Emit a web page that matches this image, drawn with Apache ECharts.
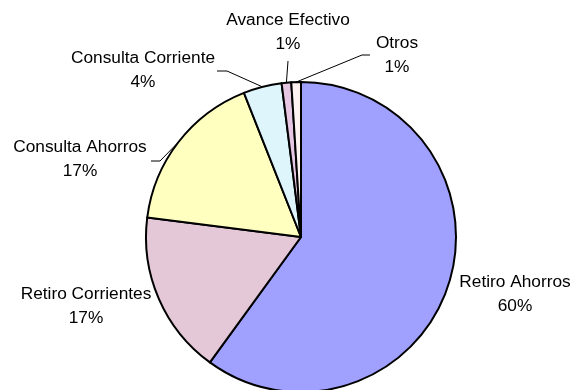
<!DOCTYPE html>
<html>
<head>
<meta charset="utf-8">
<script src="https://cdn.jsdelivr.net/npm/echarts@6/dist/echarts.min.js"></script>
<style>
  html, body { margin: 0; padding: 0; background: #ffffff; }
  #chart { width: 573px; height: 390px; }
</style>
</head>
<body>
<div id="chart"></div>
<script>
// Transaction mix, share of total (%)
var categories = ['Retiro Ahorros', 'Retiro Corrientes', 'Consulta Ahorros', 'Consulta Corriente', 'Avance Efectivo', 'Otros'];
var shares = [60, 17, 17, 4, 1, 1];
var sliceColors = ['#A0A0FF', '#E4C8D8', '#FFFFC0', '#DDF5FB', '#E6C6E2', '#FFF2F2'];

// Pie geometry
var CX = 301, CY = 237, R = 155;

// Label block centres and leader-line bends (null = no leader line)
var labelAnchors = [[515, 294], [86, 306], [80, 159], [143, 70], [288, 32], [397, 55]];
var leaderBends = [null, null, [[160, 161], [151, 161]], [[227, 71], [217, 71]], [[288, 61]], [[362, 55], [370, 55]]];

var total = shares.reduce(function (a, b) { return a + b; }, 0);

// Point on the rim at the middle of slice i (clockwise from 12 o'clock)
function rimPoint(i) {
  var before = 0;
  for (var k = 0; k < i; k++) before += shares[k];
  var a = (before + shares[i] / 2) / total * 2 * Math.PI;
  return [CX + R * Math.sin(a), CY - R * Math.cos(a)];
}

var data = categories.map(function (name, i) {
  return {
    name: name,
    value: shares[i],
    itemStyle: { color: sliceColors[i] },
    labelLine: { show: leaderBends[i] !== null }
  };
});

var chart = echarts.init(document.getElementById('chart'), null, { renderer: 'canvas' });
chart.setOption({
  backgroundColor: '#ffffff',
  animation: false,
  series: [{
    type: 'pie',
    center: [CX, CY],
    radius: R,
    startAngle: 90,
    clockwise: true,
    avoidLabelOverlap: false,
    minShowLabelAngle: 0,
    data: data,
    itemStyle: { borderColor: '#000000', borderWidth: 2 },
    emphasis: { disabled: true },
    label: {
      show: true,
      position: 'outside',
      color: '#000000',
      fontFamily: 'Liberation Sans, Arial, sans-serif',
      fontSize: 17.3,
      lineHeight: 24,
      align: 'center',
      formatter: function (p) { return p.name + '\n' + p.value + '%'; }
    },
    labelLine: {
      show: true,
      length: 10,
      length2: 10,
      lineStyle: { color: '#000000', width: 1 }
    },
    labelLayout: function (params) {
      var i = params.dataIndex;
      var out = {
        x: labelAnchors[i][0],
        y: labelAnchors[i][1],
        align: 'center',
        verticalAlign: 'middle'
      };
      if (leaderBends[i]) {
        out.labelLinePoints = [rimPoint(i)].concat(leaderBends[i]);
      }
      return out;
    }
  }]
});
</script>
</body>
</html>
